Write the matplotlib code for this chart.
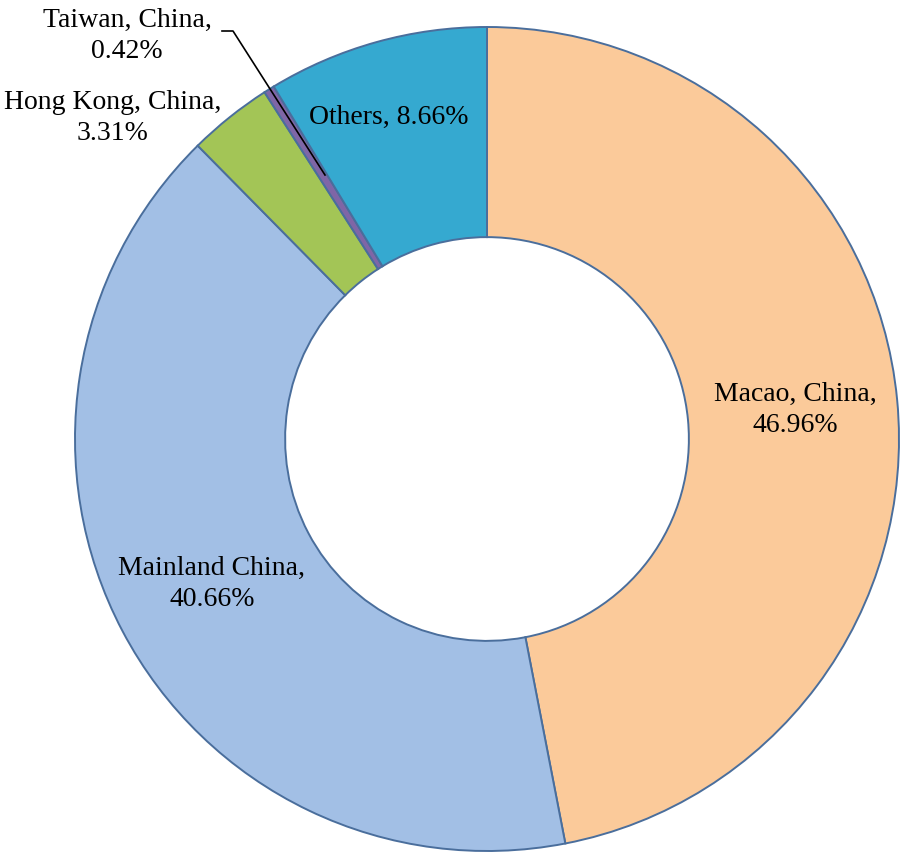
import matplotlib.pyplot as plt

regions = ["Macao, China", "Mainland China", "Hong Kong, China", "Taiwan, China", "Others"]
shares = [46.96, 40.66, 3.31, 0.42, 8.66]
colors = ["#FBCA9A", "#A2BFE5", "#A3C556", "#7F66A6", "#35A9D0"]

W, H = 902, 855
fig = plt.figure(figsize=(W / 100, H / 100), dpi=100)
ax = fig.add_axes([0, 0, 1, 1])

cx, cy, R = 487, H - 439, 412
ax.pie(shares, colors=colors, startangle=90, counterclock=False,
       center=(cx, cy), radius=R, frame=True,
       wedgeprops=dict(width=R * 0.51, edgecolor="#4A6E9C", linewidth=1.4))
ax.set_xlim(0, W)
ax.set_ylim(0, H)
ax.set_aspect("equal")
ax.axis("off")

font = dict(family="Liberation Serif", fontsize=20, ha="center", va="center",
            linespacing=1.3)
ax.text(795, H - 410, f"{regions[0]},\n{shares[0]:.2f}%", **font)
ax.text(212, H - 584, f"{regions[1]},\n{shares[1]:.2f}%", **font)
ax.text(113, H - 118, f"{regions[2]},\n{shares[2]:.2f}%", **font)
ax.text(127, H - 36, f"{regions[3]},\n{shares[3]:.2f}%", **font)
ax.text(389, H - 117, f"{regions[4]}, {shares[4]:.2f}%", **font)

# leader line for Taiwan
ax.plot([222, 233, 325], [H - 31, H - 31, H - 175], color="black", lw=1.2)

fig.savefig("out.png", dpi=100)
